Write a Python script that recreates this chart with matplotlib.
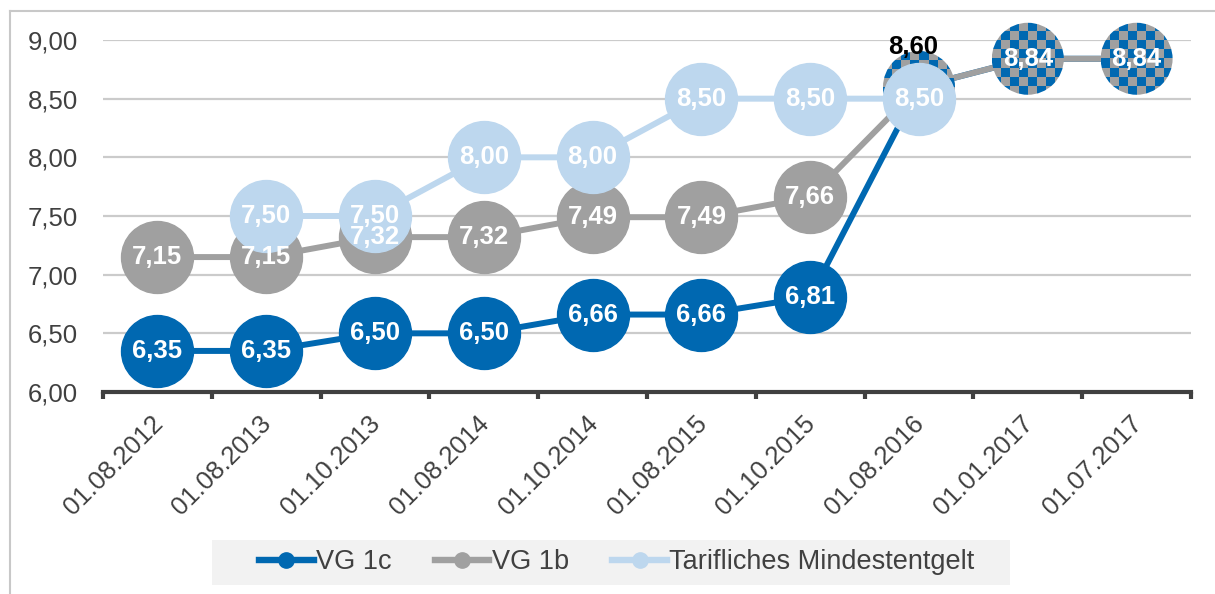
import numpy as np
import matplotlib
matplotlib.use("Agg")
import matplotlib.pyplot as plt
from matplotlib.colors import ListedColormap
from matplotlib.patches import Ellipse, Rectangle
from matplotlib.lines import Line2D
from matplotlib.transforms import ScaledTranslation

plt.rcParams["font.family"] = ["Liberation Sans", "DejaVu Sans"]

dates = ["01.08.2012", "01.08.2013", "01.10.2013", "01.08.2014", "01.10.2014",
         "01.08.2015", "01.10.2015", "01.08.2016", "01.01.2017", "01.07.2017"]
vg1c = [6.35, 6.35, 6.50, 6.50, 6.66, 6.66, 6.81, 8.60, 8.84, 8.84]
vg1b = [7.15, 7.15, 7.32, 7.32, 7.49, 7.49, 7.66, 8.60, 8.84, 8.84]
tarif = [np.nan, 7.50, 7.50, 8.00, 8.00, 8.50, 8.50, 8.50, np.nan, np.nan]
n_separate = 7  # from 01.08.2016 on VG 1c and VG 1b are the same value

c_blue = "#0068B1"
c_gray = "#A0A0A0"
c_light = "#BDD7EE"
txt = "#404040"

W, H = 1215, 594
fig = plt.figure(figsize=(W / 100, H / 100), dpi=100)
ax_l, ax_r, ax_t, ax_b = 103, 1191, 40, 392
ax = fig.add_axes([ax_l / W, 1 - ax_b / H, (ax_r - ax_l) / W, (ax_b - ax_t) / H])

x = np.arange(len(dates))
ms = 51.8
lw = 4.3

ax.plot(x, vg1c, color=c_blue, lw=lw, marker="o", ms=ms, markevery=list(range(n_separate)),
        zorder=3, clip_on=False, solid_capstyle="butt")
ax.plot(x, vg1b, color=c_gray, lw=lw, marker="o", ms=ms, markevery=list(range(n_separate)),
        zorder=4, clip_on=False, solid_capstyle="butt")
ax.plot(x, tarif, color=c_light, lw=lw, marker="o", ms=ms, zorder=5, clip_on=False,
        solid_capstyle="butt")

ax.set_xlim(-0.5, len(dates) - 0.5)
ax.set_ylim(6, 9)

# checkered markers where both series coincide
px_x = (len(dates)) / (ax_r - ax_l)
px_y = 3.0 / (ax_b - ax_t)
r = 36
cells = 8
checker = (np.indices((cells, cells)).sum(axis=0) % 2)
cmap = ListedColormap([c_blue, c_gray])
for i in range(n_separate, len(dates)):
    xc, yc = x[i], vg1c[i]
    ext = [xc - r * px_x, xc + r * px_x, yc - r * px_y, yc + r * px_y]
    im = ax.imshow(checker, cmap=cmap, extent=ext, aspect="auto", interpolation="nearest",
                   zorder=4.5)
    circ = Ellipse((xc, yc), 2 * r * px_x, 2 * r * px_y, transform=ax.transData)
    im.set_clip_path(circ)
    im.set_clip_box(fig.bbox)
ax.set_xlim(-0.5, len(dates) - 0.5)
ax.set_ylim(6, 9)

def fmt(v):
    return f"{v:.2f}".replace(".", ",")

lab = dict(ha="center", va="center", fontsize=18.5, fontweight="bold", zorder=10)
for i in range(n_separate):
    ax.text(x[i], vg1c[i], fmt(vg1c[i]), color="white", **lab)
    ax.text(x[i], vg1b[i], fmt(vg1b[i]), color="white", **lab)
for i, v in enumerate(tarif):
    if not np.isnan(v):
        ax.text(x[i], v, fmt(v), color="white", **lab)
for i in range(n_separate, len(dates)):
    if i == n_separate:
        ax.annotate(fmt(vg1c[i]), (x[i], vg1c[i]), xytext=(-4, 29), textcoords="offset points",
                    color="black", ha="center", va="center", fontsize=18.5,
                    fontweight="bold", zorder=10, annotation_clip=False)
    else:
        ax.text(x[i], vg1c[i], fmt(vg1c[i]), color="white", **lab)

# axes styling
for s in ["top", "right", "left"]:
    ax.spines[s].set_visible(False)
ax.spines["bottom"].set_color(txt)
ax.spines["bottom"].set_linewidth(3)
ax.set_yticks(np.arange(6, 9.01, 0.5))
ax.set_yticklabels([fmt(v) for v in np.arange(6, 9.01, 0.5)])
ax.tick_params(axis="y", length=0, pad=18, labelsize=18.5, labelcolor=txt)
ax.grid(axis="y", color="#CBCBCB", lw=1.6, zorder=0)
ax.set_axisbelow(True)

ax.set_xticks(x)
ax.set_xticklabels(dates, rotation=45, ha="right", rotation_mode="anchor")
ax.tick_params(axis="x", which="major", length=0, pad=14, labelsize=18.5, labelcolor=txt)
ax.set_xticks(np.arange(-0.5, len(dates)), minor=True)
ax.tick_params(axis="x", which="minor", length=5, width=3, color=txt)
shift = ScaledTranslation(-7 / 100, 0, fig.dpi_scale_trans)
for t in ax.get_xticklabels():
    t.set_transform(t.get_transform() + shift)

# outer frame
fig.add_artist(Line2D([10 / W, 10 / W], [0, 1 - 11 / H], color="#C8C8C8", lw=1.5))
fig.add_artist(Line2D([10 / W, 1], [1 - 11 / H, 1 - 11 / H], color="#C8C8C8", lw=1.5))

# legend
fig.add_artist(Rectangle((212 / W, 1 - 585 / H), (1010 - 212) / W, 45 / H,
                         transform=fig.transFigure, facecolor="#F2F2F2", edgecolor="none"))
handles = [Line2D([], [], color=c, lw=4.6, marker="o", ms=11) for c in (c_blue, c_gray, c_light)]
fig.legend(handles, ["VG 1c", "VG 1b", "Tarifliches Mindestentgelt"], loc="center",
           bbox_to_anchor=(617 / W, 1 - 562 / H), ncol=3, frameon=False, fontsize=19.5,
           handlelength=2.0, handletextpad=0.1, columnspacing=1.6, labelcolor=txt)

fig.savefig("out.png", dpi=100)
